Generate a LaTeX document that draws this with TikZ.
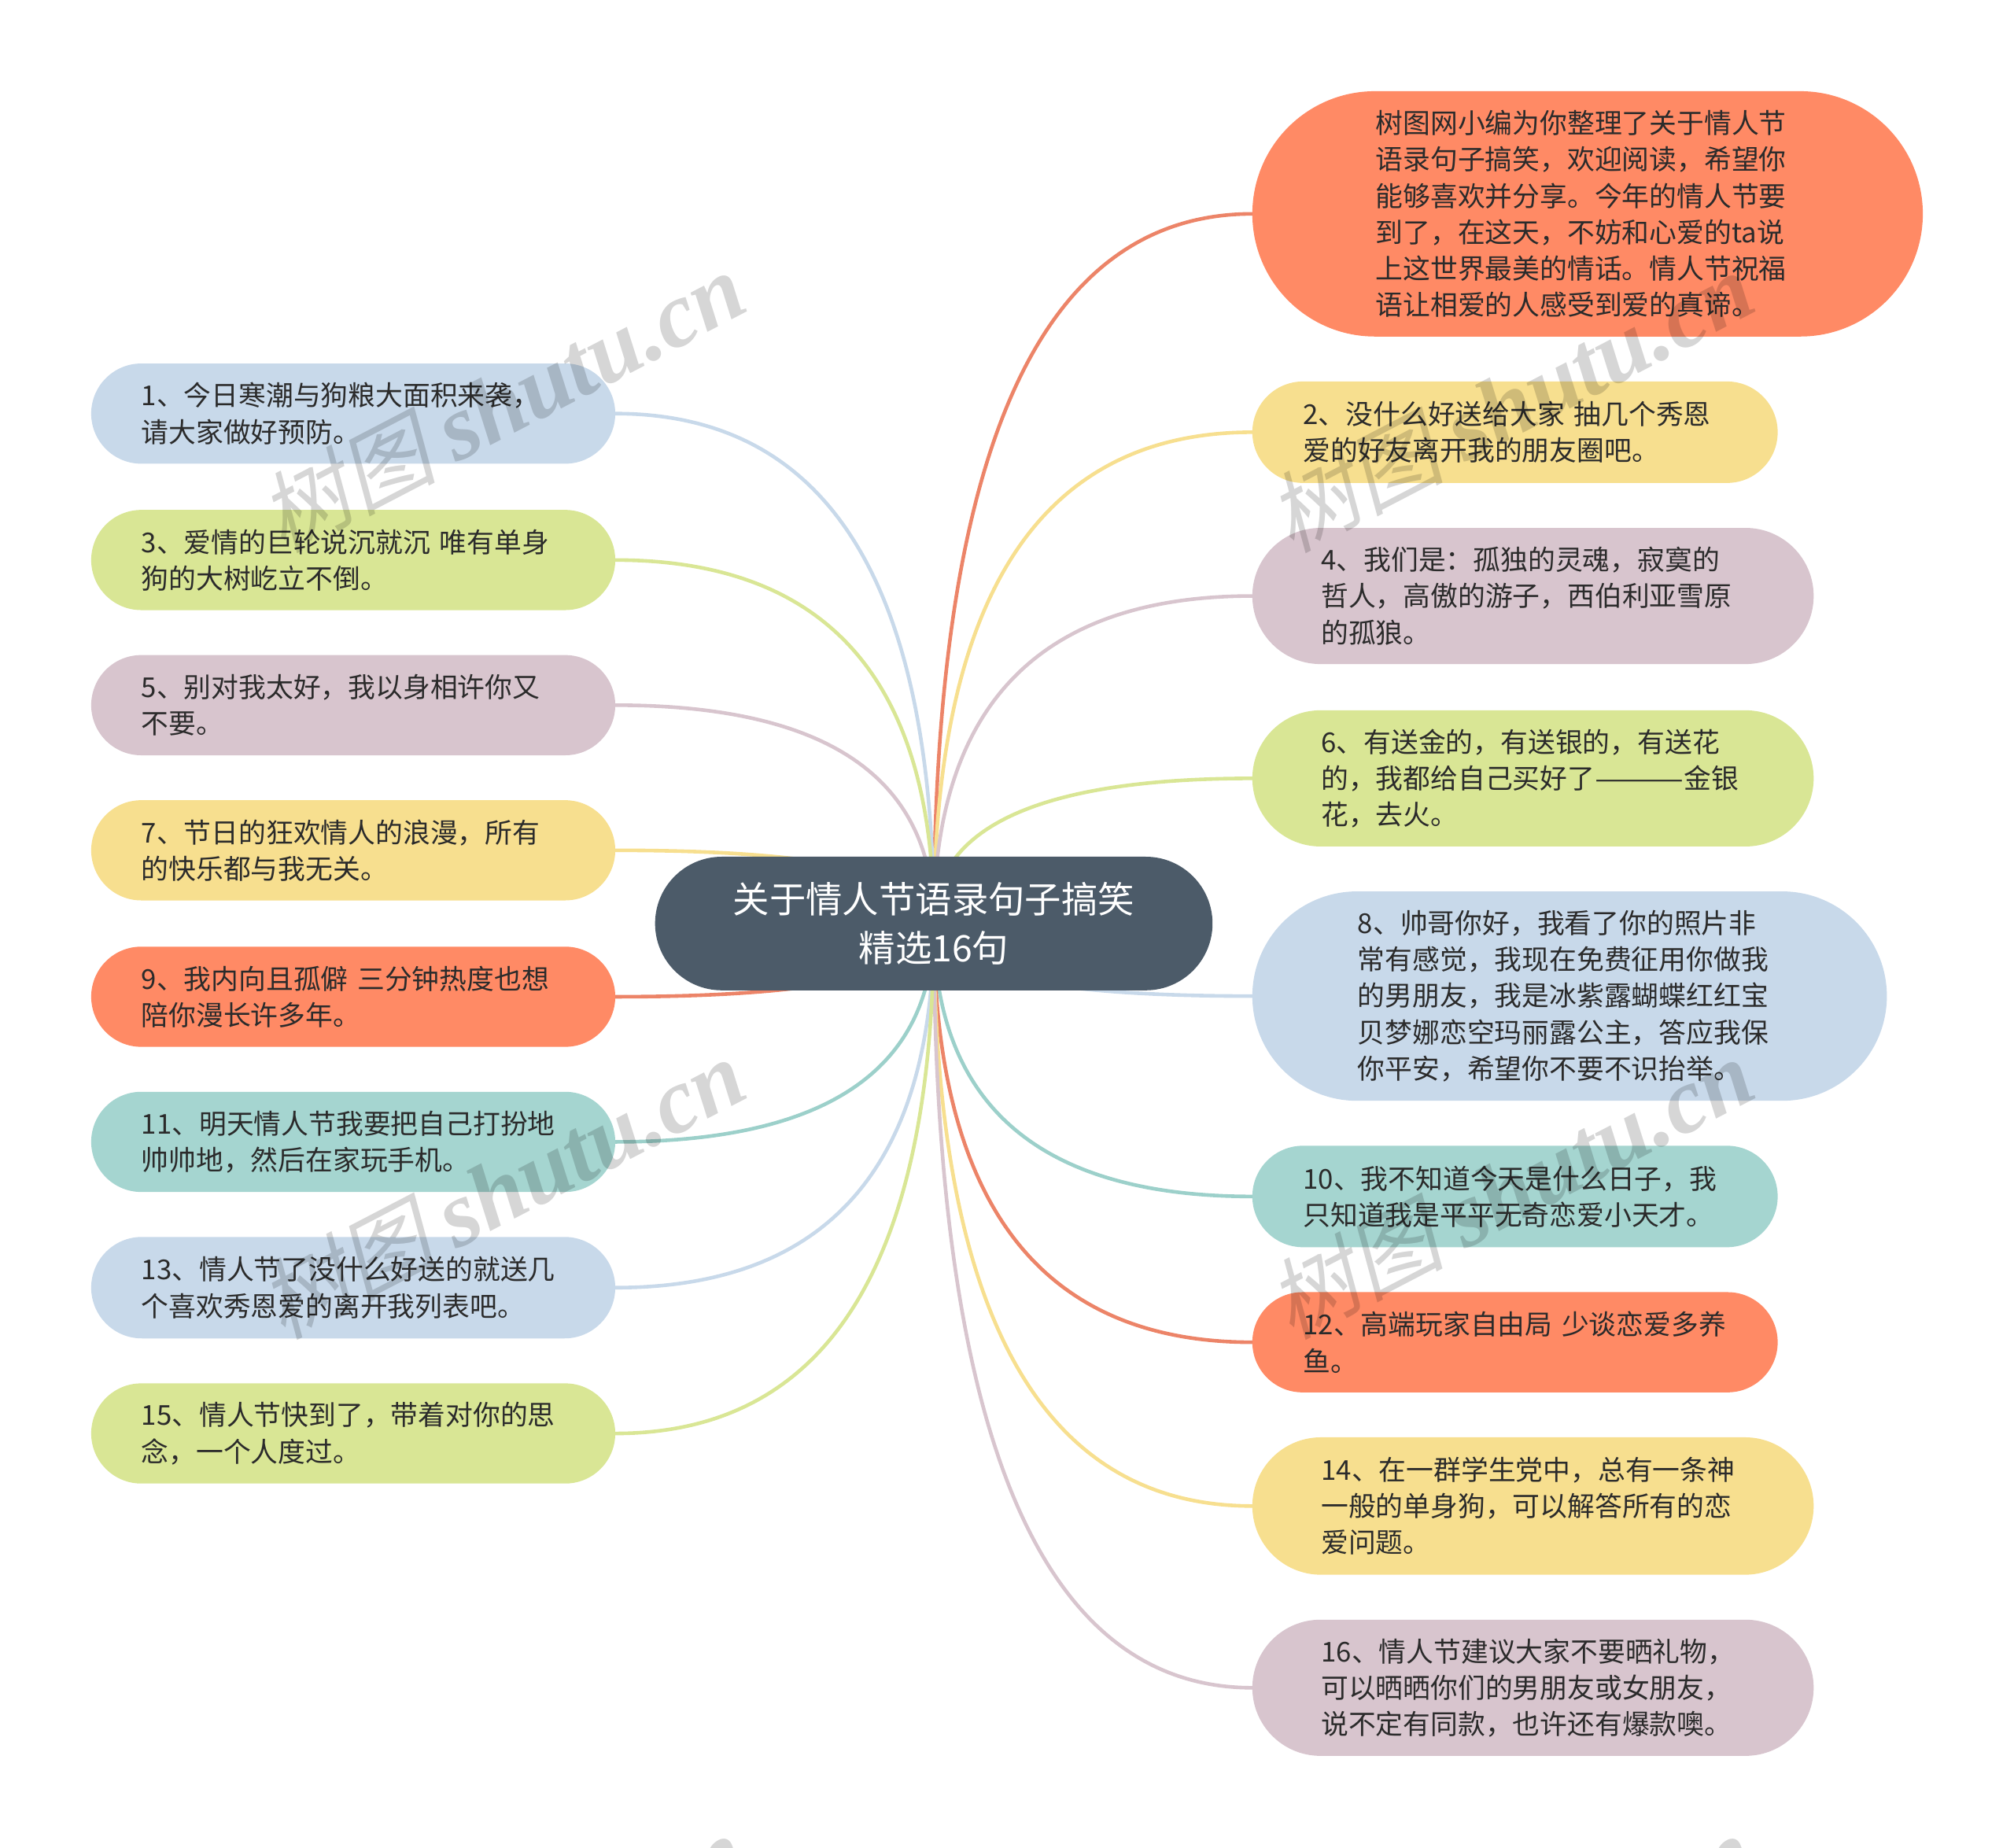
\documentclass[tikz,border=0pt]{standalone}
\usepackage{fontspec}
\usepackage{graphicx}
\setmainfont{Noto Sans CJK SC}
\newfontfamily\wmlatin{Liberation Serif}[BoldItalicFont={Liberation Serif Bold Italic},ItalicFont={Liberation Serif Italic}]
\newfontfamily\wmcjk{Noto Sans CJK SC}[FakeSlant=0.22]
\usetikzlibrary{calc,backgrounds}
\definecolor{cblue}{HTML}{C8D9EA}
\definecolor{cgreen}{HTML}{D9E695}
\definecolor{cpink}{HTML}{D8C5CE}
\definecolor{cyellow}{HTML}{F7DF8F}
\definecolor{ccoral}{HTML}{FF8A65}
\definecolor{cteal}{HTML}{A5D5D0}
\definecolor{croot}{HTML}{4C5B69}
\definecolor{ecoral}{HTML}{EC8468}
\definecolor{eteal}{HTML}{9CD0CA}
\definecolor{ctext}{HTML}{2B2B2B}
\tikzset{
  pilltext/.style={align=left,text width=269.2pt,text=ctext,inner sep=0pt,outer sep=0pt,
    font=\fontsize{17.4}{23.1}\selectfont},
  roottext/.style={align=center,text=white,inner sep=0pt,outer sep=0pt,
    font=\fontsize{23.2}{31}\selectfont},
  linkline/.style={line width=2.3pt,line cap=round},
  wmark/.style={text=black,opacity=0.16,text opacity=0.16,rotate=27.5,inner sep=0pt,anchor=center}
}
% name, left, right, top, bottom, fill, style, text
\newcommand{\pillnode}[8]{%
  \pgfmathsetmacro{\pw}{(#3-#2)*0.81633}%
  \pgfmathsetmacro{\ph}{(#5-#4)*0.81633}%
  \pgfmathsetmacro{\pr}{\ph/2-0.01}%
  \node[#7,fill=#6,rounded corners=\pr pt,minimum width=\pw pt,minimum height=\ph pt]
    (#1) at ({(#2+#3)/2},{(#4+#5)/2}) {#8};}
\newcommand{\linkto}[3]{%
  \coordinate (ctl) at (root.center |- #1.#2);
  \draw[linkline,draw=#3] (root.center)
    .. controls ($(root.center)!0.6667!(ctl)$) and ($(#1.#2)!0.6667!(ctl)$) .. (#1.#2);}
\begin{document}
\begin{tikzpicture}[x=0.81633pt,y=-0.81633pt]
\useasboundingbox (0,0) rectangle (1568,1438.15);
\pillnode{root}{510}{944}{667}{771}{croot}{roottext}{关于情人节语录句子搞笑\\精选16句}
\pillnode{a}{975}{1497}{71}{262}{ccoral}{pilltext}{树图网小编为你整理了关于情人节\\语录句子搞笑，欢迎阅读，希望你\\能够喜欢并分享。今年的情人节要\\到了，在这天，不妨和心爱的ta说\\上这世界最美的情话。情人节祝福\\语让相爱的人感受到爱的真谛。}
\pillnode{n2}{975}{1384}{297}{376}{cyellow}{pilltext}{2、没什么好送给大家~抽几个秀恩\\爱的好友离开我的朋友圈吧。}
\pillnode{n4}{975}{1412}{411}{517}{cpink}{pilltext}{4、我们是：孤独的灵魂，寂寞的\\哲人，高傲的游子，西伯利亚雪原\\的孤狼。}
\pillnode{n6}{975}{1412}{553}{659}{cgreen}{pilltext}{6、有送金的，有送银的，有送花\\的，我都给自己买好了\scalebox{1.32}[1]{———}金银\\花，去火。}
\pillnode{n8}{975}{1469}{694}{857}{cblue}{pilltext}{8、帅哥你好，我看了你的照片非\\常有感觉，我现在免费征用你做我\\的男朋友，我是冰紫露蝴蝶红红宝\\贝梦娜恋空玛丽露公主，答应我保\\你平安，希望你不要不识抬举。}
\pillnode{n10}{975}{1384}{892}{971}{cteal}{pilltext}{10、我不知道今天是什么日子，我\\只知道我是平平无奇恋爱小天才。}
\pillnode{n12}{975}{1384}{1006}{1084}{ccoral}{pilltext}{\mbox{12、高端玩家自由局~少谈恋爱多养}\\鱼。}
\pillnode{n14}{975}{1412}{1119}{1226}{cyellow}{pilltext}{14、在一群学生党中，总有一条神\\一般的单身狗，可以解答所有的恋\\爱问题。}
\pillnode{n16}{975}{1412}{1261}{1367}{cpink}{pilltext}{16、情人节建议大家不要晒礼物，\\可以晒晒你们的男朋友或女朋友，\\说不定有同款，也许还有爆款噢。}
\pillnode{n1}{71}{479}{283}{361}{cblue}{pilltext}{1、今日寒潮与狗粮大面积来袭，\\请大家做好预防。}
\pillnode{n3}{71}{479}{397}{475}{cgreen}{pilltext}{\mbox{3、爱情的巨轮说沉就沉~唯有单身}\\狗的大树屹立不倒。}
\pillnode{n5}{71}{479}{510}{588}{cpink}{pilltext}{5、别对我太好，我以身相许你又\\不要。}
\pillnode{n7}{71}{479}{623}{701}{cyellow}{pilltext}{7、节日的狂欢情人的浪漫，所有\\的快乐都与我无关。}
\pillnode{n9}{71}{479}{737}{815}{ccoral}{pilltext}{\mbox{9、我内向且孤僻~三分钟热度也想}\\陪你漫长许多年。}
\pillnode{n11}{71}{479}{850}{928}{cteal}{pilltext}{11、明天情人节我要把自己打扮地\\帅帅地，然后在家玩手机。}
\pillnode{n13}{71}{479}{963}{1042}{cblue}{pilltext}{13、情人节了没什么好送的就送几\\个喜欢秀恩爱的离开我列表吧。}
\pillnode{n15}{71}{479}{1077}{1155}{cgreen}{pilltext}{15、情人节快到了，带着对你的思\\念，一个人度过。}
\begin{scope}[on background layer]
\linkto{a}{west}{ecoral}
\linkto{n2}{west}{cyellow}
\linkto{n4}{west}{cpink}
\linkto{n6}{west}{cgreen}
\linkto{n8}{west}{cblue}
\linkto{n10}{west}{eteal}
\linkto{n12}{west}{ecoral}
\linkto{n14}{west}{cyellow}
\linkto{n16}{west}{cpink}
\linkto{n1}{east}{cblue}
\linkto{n3}{east}{cgreen}
\linkto{n5}{east}{cpink}
\linkto{n7}{east}{cyellow}
\linkto{n9}{east}{ecoral}
\linkto{n11}{east}{eteal}
\linkto{n13}{east}{cblue}
\linkto{n15}{east}{cgreen}
\end{scope}
\foreach \wx/\wy/\wn in {391/313/w1,1176/313/w2,391/925/w3,1176/925/w4,391/1530/w5,1176/1530/w6}{
  \node[wmark] (\wn) at (\wx,\wy) {\fontsize{56}{56}\selectfont{\wmcjk 树图} {\wmlatin\itshape\bfseries\fontsize{59}{59}\selectfont shutu.cn}};
}
\end{tikzpicture}
\end{document}
